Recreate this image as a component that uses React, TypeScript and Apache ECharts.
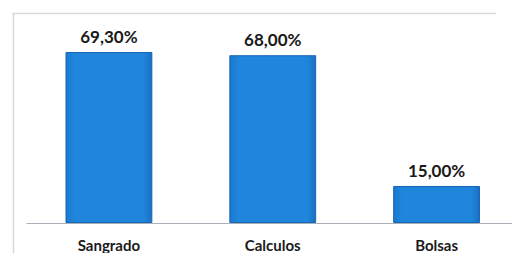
import React, { useEffect, useRef } from "react";
import * as echarts from "echarts";

const categories = ["Sangrado", "Calculos", "Bolsas"];
const values = [69.3, 68.0, 15.0];
const valueLabels = ["69,30%", "68,00%", "15,00%"];

export default function App() {
  const ref = useRef<HTMLDivElement>(null);
  useEffect(() => {
    const chart = echarts.init(ref.current!, null, { renderer: "svg" });
    chart.setOption({
      animation: false,
      backgroundColor: "#ffffff",
      grid: { left: 27, right: 1.5, top: 25.6, bottom: 30 },
      xAxis: {
        type: "category",
        data: categories,
        axisTick: { show: false },
        axisLine: { lineStyle: { color: "#a9b0b8", width: 1 } },
        axisLabel: {
          color: "#1a1a1a",
          fontFamily: "Lato",
          fontWeight: "bold",
          fontSize: 15,
          margin: 14,
        },
      },
      yAxis: {
        type: "value",
        min: 0,
        max: 80,
        show: false,
        splitLine: { show: false },
      },
      graphic: [
        {
          type: "line",
          shape: { x1: 12, y1: 13.5, x2: 496, y2: 13.5 },
          style: { stroke: "#d5d9de", lineWidth: 1.5 },
        },
        {
          type: "line",
          shape: { x1: 13.5, y1: 13, x2: 13.5, y2: 253 },
          style: { stroke: "#d5d9de", lineWidth: 1.5 },
        },
      ],
      series: [
        {
          type: "bar",
          barWidth: "53%",
          data: values.map((v, i) => ({
            value: v,
            label: { formatter: valueLabels[i] },
          })),
          itemStyle: {
            color: new echarts.graphic.LinearGradient(0, 0, 1, 0, [
              { offset: 0, color: "#1a78cf" },
              { offset: 0.1, color: "#1f86dc" },
              { offset: 0.9, color: "#1f86dc" },
              { offset: 1, color: "#1a70c4" },
            ]),
            borderColor: "#1766b5",
            borderWidth: 1,
          },
          label: {
            show: true,
            position: "top",
            distance: 7,
            color: "#1a1a1a",
            fontFamily: "Lato",
            fontWeight: "bold",
            fontSize: 17,
          },
        },
      ],
    });
    return () => chart.dispose();
  }, []);
  return <div ref={ref} style={{ width: 520, height: 253, marginLeft: -8, marginTop: -8 }} />;
}
